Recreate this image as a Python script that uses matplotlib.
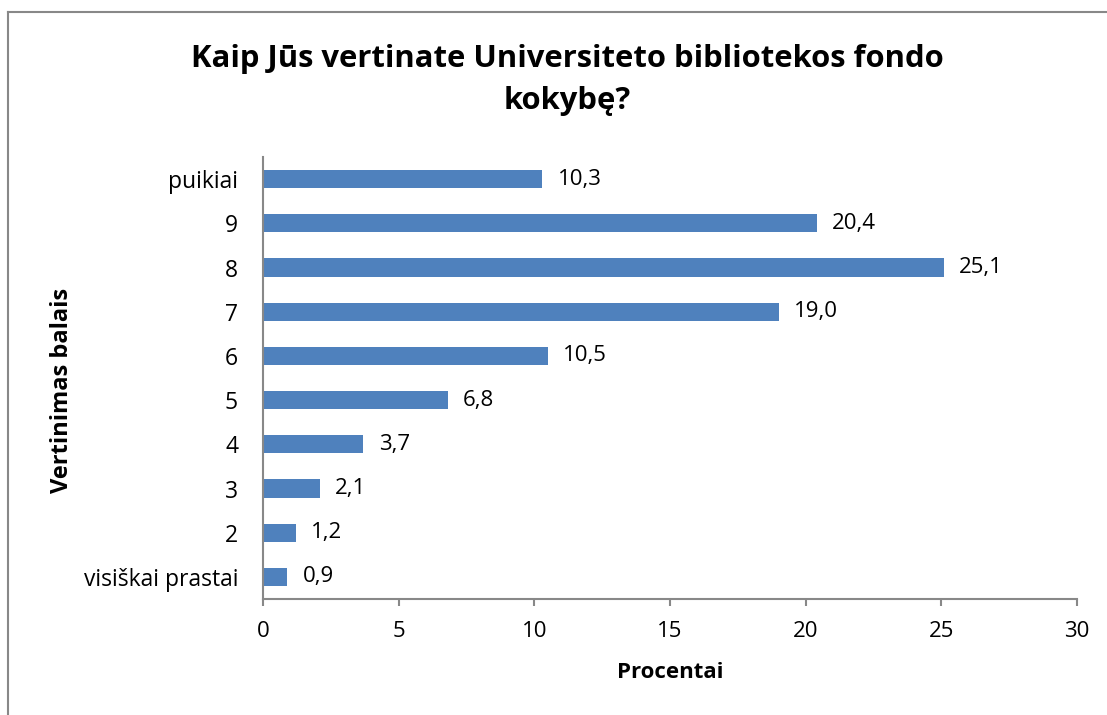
import matplotlib
matplotlib.use('Agg')
import numpy as np
import matplotlib.pyplot as plt
from matplotlib.lines import Line2D

# Survey results: rating of the university library collection
categories = ['visiškai prastai', '2', '3', '4', '5', '6', '7', '8', '9', 'puikiai']
percent = [0.9, 1.2, 2.1, 3.7, 6.8, 10.5, 19.0, 25.1, 20.4, 10.3]
x_ticks = [0, 5, 10, 15, 20, 25, 30]

plt.rcParams['font.family'] = ['Open Sans', 'DejaVu Sans']

bar_color = '#4f81bd'
axis_color = '#888888'

fig = plt.figure(figsize=(11.07, 7.15), dpi=100)
ax = fig.add_axes([0.2376, 0.1622, 0.7353, 0.6182])

y = np.arange(len(categories))
ax.barh(y, percent, height=0.41, color=bar_color)

for yi, v in zip(y, percent):
    ax.annotate(f'{v:.1f}'.replace('.', ','), xy=(v, yi), xytext=(11, 0),
                textcoords='offset points', va='center', ha='left', fontsize=16)

ax.set_xlim(0, 30)
ax.set_ylim(-0.5, len(categories) - 0.5)
ax.set_xticks(x_ticks)
ax.set_xticklabels([str(t) for t in x_ticks], fontsize=16)
ax.set_yticks(y)
ax.set_yticklabels(categories, fontsize=16.5)

ax.tick_params(axis='y', length=0, pad=18)
ax.tick_params(axis='x', length=5, width=1.5, color=axis_color, pad=11)

for side in ['top', 'right']:
    ax.spines[side].set_visible(False)
for side in ['left', 'bottom']:
    ax.spines[side].set_color(axis_color)
    ax.spines[side].set_linewidth(1.5)

ax.set_xlabel('Procentai', fontsize=16, fontweight='bold', va='center')
ax.set_ylabel('Vertinimas balais', fontsize=17, fontweight='bold', va='center')
ax.xaxis.set_label_coords(0.5, -0.167)
ax.yaxis.set_label_coords(-0.247, 0.473)

fig.text(0.5125, 0.888, 'Kaip Jūs vertinate Universiteto bibliotekos fondo\nkokybę?',
         ha='center', va='center', fontsize=22.3, fontweight='bold',
         linespacing=1.5)

# outer chart frame (top and left edges)
fig.add_artist(Line2D([0.0072, 1.0], [0.983, 0.983], transform=fig.transFigure,
                      color=axis_color, linewidth=1.5))
fig.add_artist(Line2D([0.0072, 0.0072], [0.0, 0.983], transform=fig.transFigure,
                      color=axis_color, linewidth=1.5))

fig.savefig('out.png', dpi=100)
